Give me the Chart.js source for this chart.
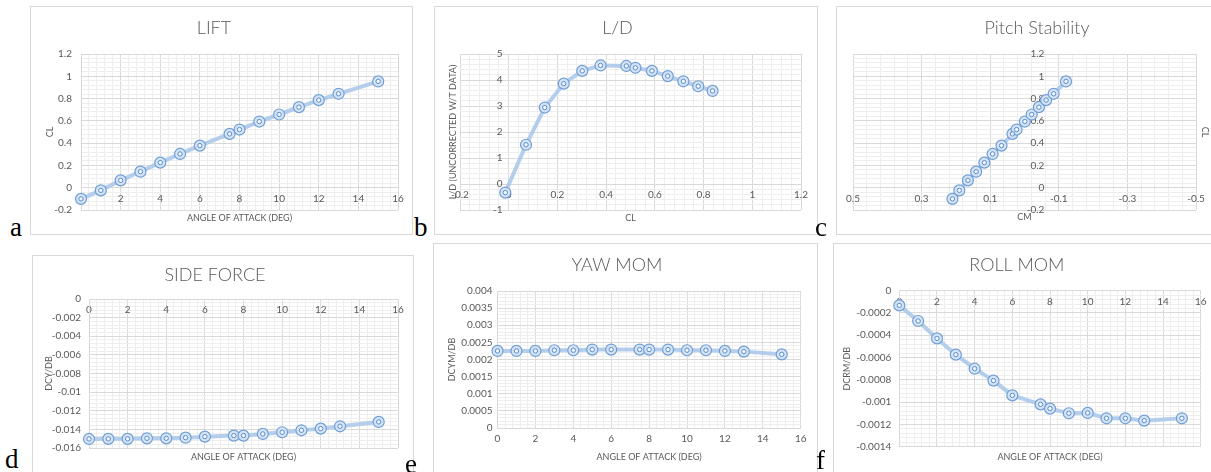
<!DOCTYPE html>
<html>
<head>
<meta charset="utf-8">
<title>Wind tunnel coefficients</title>
<script src="https://cdn.jsdelivr.net/npm/chart.js@4.4.1/dist/chart.umd.min.js"></script>
<style>
  body { margin: 0; background: #fff; width: 1211px; height: 472px; overflow: hidden; position: relative; }
  .box { position: absolute; border: 1px solid #d9d9d9; box-sizing: border-box; }
  .box canvas { position: absolute; left: -1px; top: -1px; }
  .tag { position: absolute; font-family: "Liberation Serif", "Times New Roman", serif; font-size: 27px; line-height: 1; color: #000; }
</style>
</head>
<body>

<div class="box" style="left:30px;top:6px;width:383px;height:229px"><canvas id="lift" width="383" height="229"></canvas></div>
<div class="box" style="left:434px;top:6px;width:384px;height:229px"><canvas id="ld" width="384" height="229"></canvas></div>
<div class="box" style="left:836px;top:6px;width:385px;height:229px"><canvas id="pitch" width="385" height="229"></canvas></div>
<div class="box" style="left:32px;top:255px;width:382px;height:220px"><canvas id="side" width="382" height="220"></canvas></div>
<div class="box" style="left:433px;top:243px;width:385px;height:232px"><canvas id="yaw" width="385" height="232"></canvas></div>
<div class="box" style="left:833px;top:243px;width:380px;height:232px"><canvas id="roll" width="380" height="232"></canvas></div>

<div class="tag" style="left:10px;top:214px">a</div>
<div class="tag" style="left:414px;top:214px">b</div>
<div class="tag" style="left:815px;top:214px">c</div>
<div class="tag" style="left:5px;top:446px">d</div>
<div class="tag" style="left:405px;top:451px">e</div>
<div class="tag" style="left:816px;top:447px">f</div>

<script>
// angle of attack sweep (deg)
var alpha = [0, 1, 2, 3, 4, 5, 6, 7.5, 8, 9, 10, 11, 12, 13, 15];

// lift coefficient vs alpha
var cl = [-0.100, -0.024, 0.066, 0.144, 0.225, 0.303, 0.378, 0.483, 0.522, 0.594, 0.657, 0.723, 0.786, 0.843, 0.954];

// L/D (uncorrected) vs CL
var ldCl = [-0.014, 0.071, 0.148, 0.226, 0.302, 0.377, 0.483, 0.520, 0.588, 0.653, 0.717, 0.778, 0.837];
var ldRatio = [-0.33, 1.51, 2.94, 3.86, 4.35, 4.56, 4.54, 4.47, 4.35, 4.15, 3.95, 3.76, 3.58];

// pitching moment, plotted against cl
var cm = [0.210, 0.190, 0.165, 0.141, 0.117, 0.093, 0.067, 0.035, 0.023, -0.001, -0.021, -0.042, -0.063, -0.085, -0.121];

// lateral derivatives vs alpha
var dcyDb = [-0.01503, -0.01502, -0.01502, -0.01496, -0.01496, -0.01489, -0.01478, -0.01467, -0.01467, -0.01449, -0.01431, -0.01410, -0.01392, -0.01367, -0.01320];
var dcymDb = [0.00225, 0.00225, 0.00225, 0.00227, 0.00227, 0.00229, 0.00229, 0.00229, 0.00229, 0.00229, 0.00227, 0.00227, 0.00225, 0.00223, 0.00215];
var dcrmDb = [-0.000132, -0.000272, -0.000428, -0.000574, -0.000700, -0.000807, -0.000939, -0.001020, -0.001058, -0.001100, -0.001097, -0.001145, -0.001145, -0.001166, -0.001145];

// axis ranges: [min, max, major step]
var alphaRange = [0, 16, 2];
var clRange = [-0.2, 1.2, 0.2];
var ldXRange = [-0.2, 1.2, 0.2];
var ldYRange = [-1, 5, 1];
var cmRange = [-0.5, 0.5, 0.2];
var dcyRange = [-0.016, 0, 0.002];
var dcymRange = [0, 0.004, 0.0005];
var dcrmRange = [-0.0014, 0, 0.0002];

Chart.defaults.font.family = 'Lato, "Open Sans", sans-serif';
Chart.defaults.color = '#595959';
Chart.defaults.animation = false;

var MAJOR = '#d9d9d9';
var MINOR = '#eeeeee';
var LH = 9 * 1.2;    // axis title line height
var TLH = 18 * 1.2;  // chart title line height

function fmt(v) { return String(parseFloat(Number(v).toFixed(7))); }

function onMajor(v, range) {
  var r = (v - range[0]) / range[2];
  return Math.abs(r - Math.round(r)) < 1e-6;
}

function minorGrid(range) {
  return function (ctx) { return onMajor(ctx.tick.value, range) ? 'rgba(0,0,0,0)' : MINOR; };
}

function pairs(xs, ys) {
  return xs.map(function (x, i) { return { x: x, y: ys[i] }; });
}

function buildChart(id, p) {
  var pts = pairs(p.xs, p.ys);
  var leftAxis = p.yAt == null;

  var scales = {
    x: {
      type: 'linear', min: p.xr[0], max: p.xr[1], reverse: !!p.xReverse,
      position: { y: 0 },
      afterFit: function (s) { s.height = 0; },
      ticks: { stepSize: p.xr[2], padding: 5, font: { size: 10 }, callback: fmt, autoSkip: false, maxRotation: 0 },
      grid: { color: MAJOR, drawTicks: false },
      border: { color: MAJOR }
    },
    x2: {
      type: 'linear', min: p.xr[0], max: p.xr[1], reverse: !!p.xReverse,
      position: 'bottom',
      afterFit: function (s) { s.height = p.H - p.plot.b; },
      ticks: { display: false, stepSize: p.xr[2] / 5 },
      grid: { color: minorGrid(p.xr), drawTicks: false },
      border: { display: false },
      title: { display: true, text: p.xTitle, font: { size: 9 }, padding: { top: 0, bottom: p.H - p.xTitleY - LH / 2 } }
    },
    y: {
      type: 'linear', min: p.yr[0], max: p.yr[1],
      position: leftAxis ? 'left' : { x: p.yAt },
      afterFit: function (s) { s.width = leftAxis ? p.plot.l : 0; },
      ticks: { stepSize: p.yr[2], padding: p.yPad || 0, font: { size: 10 }, callback: fmt, autoSkip: false },
      grid: { color: MAJOR, drawTicks: false },
      border: { display: leftAxis, color: MAJOR },
      title: { display: leftAxis, text: p.yTitle, font: { size: 9 }, padding: { top: p.yTitleX - LH / 2, bottom: 0 } }
    },
    y2: {
      type: 'linear', min: p.yr[0], max: p.yr[1],
      position: p.yTitleRight ? 'right' : 'left',
      afterFit: function (s) {
        if (p.yTitleRight) s.width = p.W - p.plot.r;
        else s.width = leftAxis ? 0 : p.plot.l;
      },
      ticks: { display: false, stepSize: p.yr[2] / 5 },
      grid: { color: minorGrid(p.yr), drawTicks: false },
      border: { display: false },
      title: {
        display: !leftAxis, text: p.yTitle, font: { size: 9 },
        padding: { top: p.yTitleRight ? p.W - p.yTitleX - LH / 2 : p.yTitleX - LH / 2, bottom: 0 }
      }
    }
  };

  return new Chart(document.getElementById(id), {
    type: 'scatter',
    data: {
      datasets: [
        {
          data: pts, showLine: false, clip: false,
          pointRadius: 2.2, pointBorderWidth: 1,
          pointBorderColor: '#5b8fcc', pointBackgroundColor: 'rgba(255,255,255,0.6)'
        },
        {
          data: pts, showLine: true, clip: false, tension: 0,
          borderColor: 'rgba(168,198,233,0.85)', borderWidth: 4,
          pointRadius: 5.5, pointBorderWidth: 1.2,
          pointBorderColor: '#6f9fd6', pointBackgroundColor: '#d5e3f4'
        }
      ]
    },
    options: {
      responsive: false,
      devicePixelRatio: 1,
      layout: { padding: { left: (leftAxis || p.yAt != null && !p.yTitleRight) ? 0 : p.plot.l, right: p.yTitleRight ? 0 : p.W - p.plot.r, top: 0, bottom: 0 } },
      plugins: {
        legend: { display: false },
        tooltip: { enabled: false },
        title: {
          display: true, text: p.title, color: '#595959',
          font: { size: 18, weight: '300' },
          padding: { top: p.titleY - TLH / 2, bottom: p.plot.t - p.titleY - TLH / 2 }
        }
      },
      scales: scales
    }
  });
}

buildChart('lift', {
  title: 'LIFT', xs: alpha, ys: cl, xr: alphaRange, yr: clRange,
  xTitle: 'ANGLE OF ATTACK (DEG)', yTitle: 'CL',
  W: 383, H: 229, plot: { l: 51, t: 48, r: 368, b: 204 },
  titleY: 22, xTitleY: 212, yTitleX: 20, yPad: 9
});

buildChart('ld', {
  title: 'L/D', xs: ldCl, ys: ldRatio, xr: ldXRange, yr: ldYRange,
  xTitle: 'CL', yTitle: 'L/D (UNCORRECTED W/T DATA)', yAt: -0.025,
  W: 384, H: 229, plot: { l: 26, t: 48, r: 367, b: 204 },
  titleY: 22, xTitleY: 212, yTitleX: 19
});

buildChart('pitch', {
  title: 'Pitch Stability', xs: cm, ys: cl, xr: cmRange, yr: clRange, xReverse: true,
  xTitle: 'CM', yTitle: 'CL', yAt: -0.058, yTitleRight: true,
  W: 385, H: 229, plot: { l: 17, t: 48, r: 360, b: 204 },
  titleY: 22, xTitleY: 211, yTitleX: 369
});

buildChart('side', {
  title: 'SIDE FORCE', xs: alpha, ys: dcyDb, xr: alphaRange, yr: dcyRange,
  xTitle: 'ANGLE OF ATTACK (DEG)', yTitle: 'DCY/DB',
  W: 382, H: 220, plot: { l: 57, t: 44, r: 366, b: 193 },
  titleY: 20, xTitleY: 202, yTitleX: 17, yPad: 8
});

buildChart('yaw', {
  title: 'YAW MOM', xs: alpha, ys: dcymDb, xr: alphaRange, yr: dcymRange,
  xTitle: 'ANGLE OF ATTACK (DEG)', yTitle: 'DCYM/DB',
  W: 385, H: 232, plot: { l: 64.5, t: 48, r: 367.7, b: 185 },
  titleY: 22, xTitleY: 213.7, yTitleX: 19.3, yPad: 5
});

buildChart('roll', {
  title: 'ROLL MOM', xs: alpha, ys: dcrmDb, xr: alphaRange, yr: dcrmRange,
  xTitle: 'ANGLE OF ATTACK (DEG)', yTitle: 'DCRM/DB',
  W: 380, H: 232, plot: { l: 66.3, t: 47.7, r: 367.7, b: 203.7 },
  titleY: 22, xTitleY: 213.7, yTitleX: 14.3, yPad: 8
});
</script>
</body>
</html>
